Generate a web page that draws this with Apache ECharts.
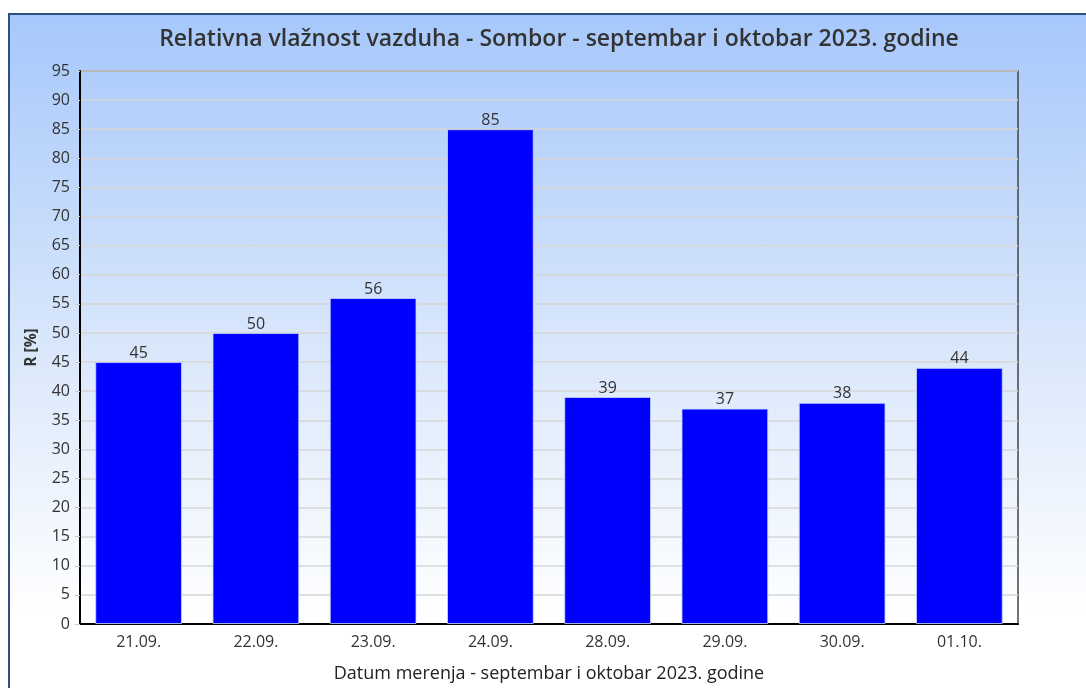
<!DOCTYPE html>
<html>
<head>
<meta charset="utf-8">
<script src="https://cdn.jsdelivr.net/npm/echarts@6/dist/echarts.min.js"></script>
<style>
html,body{margin:0;padding:0;width:1086px;height:688px;overflow:hidden;background:#fff;}
#frame{position:absolute;left:8px;top:13px;width:1200px;height:800px;border-left:2px solid #2f4f7f;border-top:2px solid #2f4f7f;background:linear-gradient(to bottom,#a7c8fb 0px,#d9e7fb 330px,#ffffff 600px);}
#chart{position:absolute;left:0;top:0;width:1086px;height:688px;}
</style>
</head>
<body>
<div id="frame"></div>
<div id="chart"></div>
<script>
const categories = ['21.09.', '22.09.', '23.09.', '24.09.', '28.09.', '29.09.', '30.09.', '01.10.'];
const humidity = [45, 50, 56, 85, 39, 37, 38, 44];
const titleText = 'Relativna vlažnost vazduha - Sombor - septembar i oktobar 2023. godine';
const xName = 'Datum merenja - septembar i oktobar 2023. godine';
const yName = 'R [%]';

const chart = echarts.init(document.getElementById('chart'), null, {renderer: 'canvas'});
chart.setOption({
  backgroundColor: 'transparent',
  animation: false,
  title: {
    text: titleText,
    left: 554, top: 23, textAlign: 'center',
    textStyle: {fontFamily: 'Open Sans', fontSize: 23, fontWeight: 600, color: '#333'}
  },
  grid: {left: 80, top: 71, right: 68, bottom: 64, show: true, borderColor: '#444', borderWidth: 1.5, backgroundColor: 'transparent', containLabel: false, outerBoundsMode: 'none'},
  xAxis: {
    type: 'category',
    data: categories,
    name: xName,
    nameLocation: 'middle',
    nameGap: 41,
    nameTextStyle: {fontFamily: 'Open Sans', fontSize: 18, color: '#222'},
    axisLine: {lineStyle: {color: '#000', width: 2}},
    axisTick: {show: false},
    axisLabel: {fontFamily: 'Open Sans', fontSize: 16, color: '#333', margin: 10}
  },
  yAxis: {
    type: 'value',
    min: 0, max: 95, interval: 5,
    name: yName,
    nameLocation: 'middle',
    nameGap: 40,
    nameRotate: 90,
    nameTextStyle: {fontFamily: 'Open Sans', fontSize: 15.5, fontWeight: 'bold', color: '#333'},
    axisLine: {show: true, lineStyle: {color: '#000', width: 2}},
    axisTick: {show: true, length: 5, inside: false, lineStyle: {color: '#ccc'}},
    axisLabel: {fontFamily: 'Open Sans', fontSize: 16, color: '#333', margin: 10},
    splitLine: {lineStyle: {color: '#d6d6d6', width: 1.5}}
  },
  series: [{
    type: 'bar',
    data: humidity,
    barCategoryGap: '26%',
    itemStyle: {color: '#0000ff', borderColor: 'rgba(200,215,255,0.8)', borderWidth: 1},
    label: {show: true, position: 'top', distance: 1, fontFamily: 'Open Sans', fontSize: 16, color: '#333'}
  }]
});
</script>
</body>
</html>
